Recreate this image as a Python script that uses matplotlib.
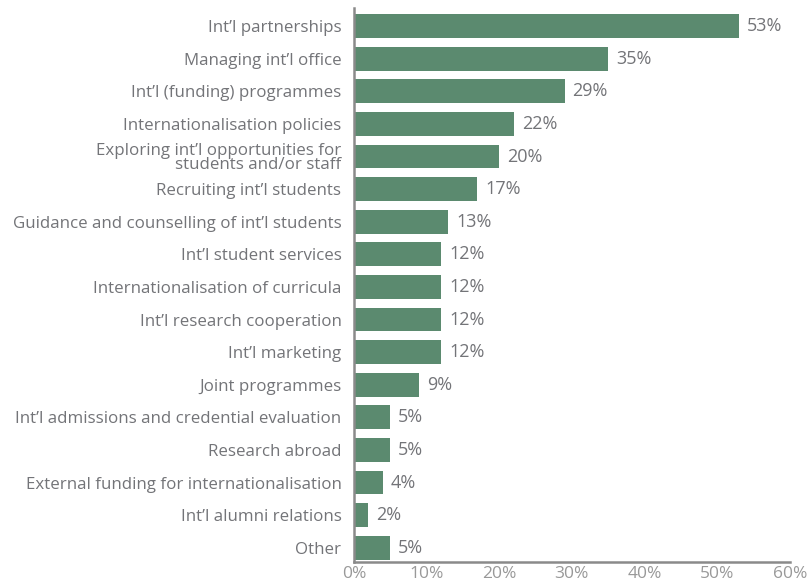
import matplotlib
matplotlib.use("Agg")
import matplotlib.pyplot as plt

categories = [
    "Int’l partnerships",
    "Managing int’l office",
    "Int’l (funding) programmes",
    "Internationalisation policies",
    "Exploring int’l opportunities for\nstudents and/or staff",
    "Recruiting int’l students",
    "Guidance and counselling of int’l students",
    "Int’l student services",
    "Internationalisation of curricula",
    "Int’l research cooperation",
    "Int’l marketing",
    "Joint programmes",
    "Int’l admissions and credential evaluation",
    "Research abroad",
    "External funding for internationalisation",
    "Int’l alumni relations",
    "Other",
]
values = [53, 35, 29, 22, 20, 17, 13, 12, 12, 12, 12, 9, 5, 5, 4, 2, 5]
xticks = [0, 10, 20, 30, 40, 50, 60]

plt.rcParams['font.family'] = ['Open Sans', 'DejaVu Sans']
gray = "#737478"
green = "#5b8a6f"

fig = plt.figure(figsize=(8.1, 5.84), dpi=100)
ax = fig.add_axes([0.437, 0.038, 0.538, 0.948])
y = list(range(len(categories)))
ax.barh(y, values, height=0.73, color=green)
for yi, v in zip(y, values):
    ax.text(v + 1.1, yi, f"{v}%", va="center", ha="left", fontsize=13,
            color=gray, fontweight="medium")
ax.set_ylim(len(categories) - 0.57, -0.55)
ax.set_xlim(0, 60)
ax.set_yticks(y)
ax.set_yticklabels(categories, fontsize=12.2, color=gray, linespacing=0.85,
                   fontweight="medium")
ax.set_xticks(xticks)
ax.set_xticklabels([f"{t}%" for t in xticks], fontsize=12.5, color="#999999")
ax.tick_params(length=0, pad=9)
ax.tick_params(axis='x', pad=3)
for s in ["top", "right"]:
    ax.spines[s].set_visible(False)
for s in ["left", "bottom"]:
    ax.spines[s].set_color("#8a8a8a")
    ax.spines[s].set_linewidth(1.8)
fig.savefig("out.png", dpi=100)
